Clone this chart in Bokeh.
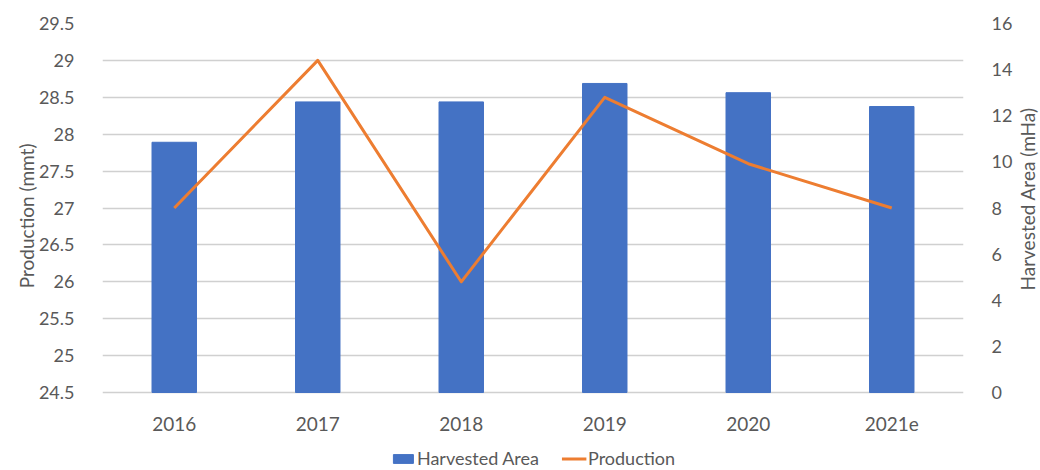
import math
from bokeh.plotting import figure
from bokeh.models import (Range1d, LinearAxis, FixedTicker, CustomJSTickFormatter,
                          Legend, LegendItem, ColumnDataSource, FactorRange)
from bokeh.core.properties import value
from bokeh.embed import file_html
from bokeh.resources import INLINE

years = ["2016", "2017", "2018", "2019", "2020", "2021e"]
harvested_area = [10.85, 12.6, 12.6, 13.4, 13.0, 12.4]
production = [27.0, 29.0, 26.0, 28.5, 27.6, 27.0]
left_ticks = [24.5, 25, 25.5, 26, 26.5, 27, 27.5, 28, 28.5, 29, 29.5]
right_ticks = [0, 2, 4, 6, 8, 10, 12, 14, 16]
left_title = "Production (mmt)"
right_title = "Harvested Area  (mHa)"

FONT = "Lato"
TXT = "#595959"

# layout: the gridded part is 369px tall; the frame continues below it to hold
# the category labels and the legend
GRID_PX = 369
FRAME_PX = 446
L_MIN, L_MAX = 24.5, 29.5
R_MIN, R_MAX = 0, 16
l_low = L_MAX - (L_MAX - L_MIN) * FRAME_PX / GRID_PX
r_low = R_MAX - (R_MAX - R_MIN) * FRAME_PX / GRID_PX
x_label_y = L_MIN - 31 * (L_MAX - L_MIN) / GRID_PX

src = ColumnDataSource(dict(x=years, area=harvested_area, prod=production))

p = figure(x_range=FactorRange(*years), y_range=Range1d(l_low, L_MAX),
           frame_width=861, frame_height=FRAME_PX,
           output_backend="svg", toolbar_location=None,
           min_border_left=88, min_border_right=82,
           min_border_top=23, min_border_bottom=0)
p.outline_line_color = None
p.background_fill_color = "white"
p.border_fill_color = "white"

p.extra_y_ranges = {"right": Range1d(r_low, R_MAX), "lab": Range1d(0, FRAME_PX)}

bars = p.vbar(x="x", top="area", bottom=0, width=0.31, source=src,
              y_range_name="right", fill_color="#4472C4", line_color="#4472C4")
line = p.line(x="x", y="prod", source=src, line_color="#ED7D31", line_width=3,
              line_join="round")

# category labels
p.text(x=years, y=[x_label_y] * len(years), text=years,
       text_font=value(FONT), text_font_size="19px", text_color=TXT,
       text_align="center", text_baseline="middle")
p.xaxis.visible = False

# left axis
ya = p.yaxis[0]
ya.ticker = FixedTicker(ticks=left_ticks)
ya.formatter = CustomJSTickFormatter(code="return tick.toString();")

la = LinearAxis(y_range_name="lab", ticker=FixedTicker(ticks=[326]),
                formatter=CustomJSTickFormatter(code="return '%s';" % left_title),
                major_label_orientation=math.pi / 2)
p.add_layout(la, "left")

ra = LinearAxis(y_range_name="right", ticker=FixedTicker(ticks=right_ticks))
p.add_layout(ra, "right")

ta = LinearAxis(y_range_name="lab", ticker=FixedTicker(ticks=[179]),
                formatter=CustomJSTickFormatter(code="return '%s';" % right_title),
                major_label_orientation=math.pi / 2)
p.add_layout(ta, "right")

for ax in [ya, la, ra, ta]:
    ax.axis_line_color = None
    ax.major_tick_line_color = None
    ax.minor_tick_line_color = None
    ax.major_label_text_font = FONT
    ax.major_label_text_font_size = "18px"
    ax.major_label_text_color = TXT
la.major_label_text_font_size = "19px"
ta.major_label_text_font_size = "19px"
ya.major_label_standoff = 22
la.major_label_standoff = 3
ra.major_label_standoff = 22
ta.major_label_standoff = 6

p.xgrid.grid_line_color = None
p.ygrid.grid_line_color = "#d0d0d0"
p.ygrid.grid_line_width = 1.5
p.ygrid.ticker = FixedTicker(ticks=left_ticks)

legend = Legend(items=[LegendItem(label="Harvested Area", renderers=[bars]),
                       LegendItem(label="Production", renderers=[line])],
                orientation="horizontal", location="bottom_center",
                label_text_font=FONT, label_text_font_size="18px",
                label_text_color=TXT, glyph_width=25, glyph_height=11,
                label_standoff=2, spacing=22, padding=0, margin=0,
                border_line_color=None, background_fill_alpha=0)
p.add_layout(legend)

open("out.html", "w").write(file_html(p, INLINE))
